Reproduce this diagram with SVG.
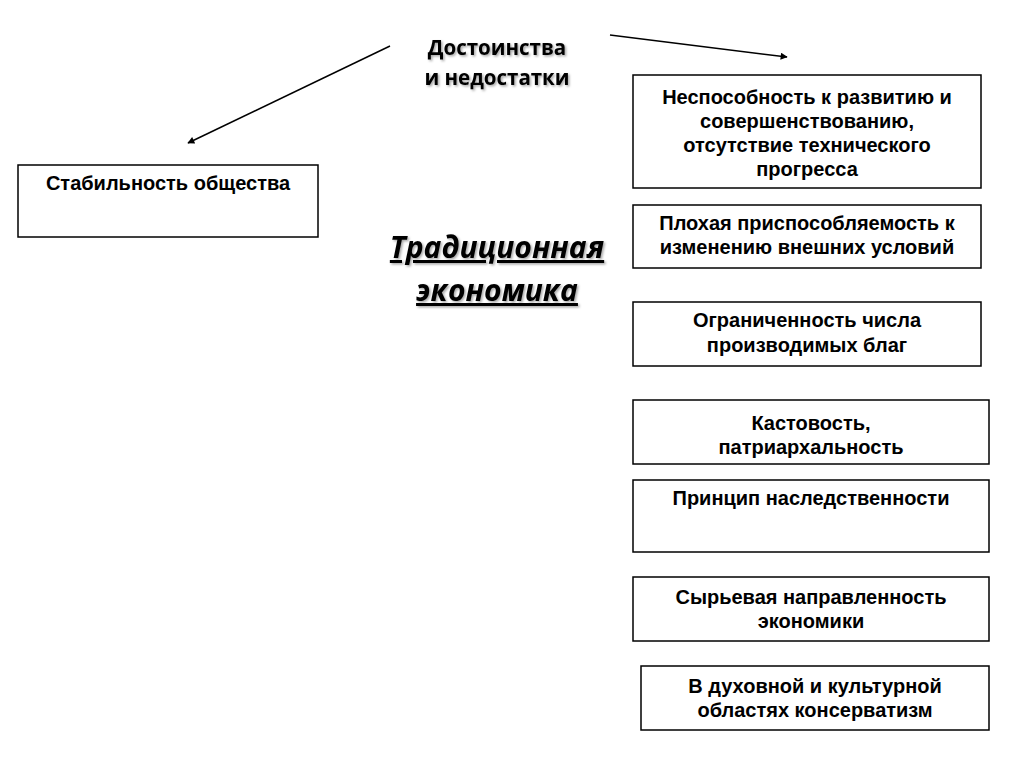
<svg xmlns="http://www.w3.org/2000/svg" width="1024" height="767" viewBox="0 0 1024 767">
<defs>
<marker id="ah" viewBox="0 0 10 10" refX="9" refY="5" markerWidth="9" markerHeight="7" markerUnits="userSpaceOnUse" orient="auto"><path d="M0,0 L10,5 L0,10 z" fill="#000"/></marker>
<filter id="sh" x="-10%" y="-20%" width="120%" height="150%"><feDropShadow dx="1.5" dy="1.5" stdDeviation="1" flood-color="#000" flood-opacity="0.35"/></filter>
</defs>
<style>
.box{fill:#fff;stroke:#000;stroke-width:1.5}
.t{font-family:"Liberation Sans",Arial,sans-serif;font-weight:bold;font-size:20px;fill:#000;text-anchor:middle}
.h{font-family:"Open Sans","Liberation Sans",sans-serif;font-weight:bold;font-size:20.5px;fill:#000;text-anchor:middle}
.big{font-family:"Open Sans","Liberation Sans",sans-serif;font-weight:bold;font-style:italic;font-size:30px;fill:#000;text-anchor:middle;text-decoration:underline}
.c{stroke:#000;stroke-width:1.5;fill:none;marker-end:url(#ah)}
</style>
<rect width="1024" height="767" fill="#fff"/>
<g id="title" filter="url(#sh)">
<text class="h" x="497" y="55">Достоинства</text>
<text class="h" x="497" y="85">и недостатки</text>
</g>
<g id="center" filter="url(#sh)">
<text class="big" x="497" y="258">Традиционная</text>
<text class="big" x="497" y="301">экономика</text>
</g>
<g id="connectors">
<line class="c" x1="390" y1="46" x2="188" y2="143"/>
<line class="c" x1="610" y1="35" x2="787" y2="57"/>
</g>
<g id="n0"><rect class="box" x="18" y="165" width="300" height="72"/><text class="t" x="168" y="190">Стабильность общества</text></g>
<g id="n1"><rect class="box" x="633" y="75" width="348" height="113"/>
<text class="t" x="807" y="104">Неспособность к развитию и</text>
<text class="t" x="807" y="128">совершенствованию,</text>
<text class="t" x="807" y="152">отсутствие технического</text>
<text class="t" x="807" y="176">прогресса</text></g>
<g id="n2"><rect class="box" x="633" y="205" width="348" height="63"/>
<text class="t" x="807" y="230">Плохая приспособляемость к</text>
<text class="t" x="807" y="254">изменению внешних условий</text></g>
<g id="n3"><rect class="box" x="633" y="302" width="348" height="64"/>
<text class="t" x="807" y="327">Ограниченность числа</text>
<text class="t" x="807" y="352">производимых благ</text></g>
<g id="n4"><rect class="box" x="633" y="400" width="356" height="64"/>
<text class="t" x="811" y="430">Кастовость,</text>
<text class="t" x="811" y="454">патриархальность</text></g>
<g id="n5"><rect class="box" x="633" y="480" width="356" height="72"/>
<text class="t" x="811" y="505">Принцип наследственности</text></g>
<g id="n6"><rect class="box" x="633" y="577" width="356" height="64"/>
<text class="t" x="811" y="604">Сырьевая направленность</text>
<text class="t" x="811" y="628">экономики</text></g>
<g id="n7"><rect class="box" x="641" y="666" width="348" height="64"/>
<text class="t" x="815" y="693">В духовной и культурной</text>
<text class="t" x="815" y="717">областях консерватизм</text></g>
</svg>
